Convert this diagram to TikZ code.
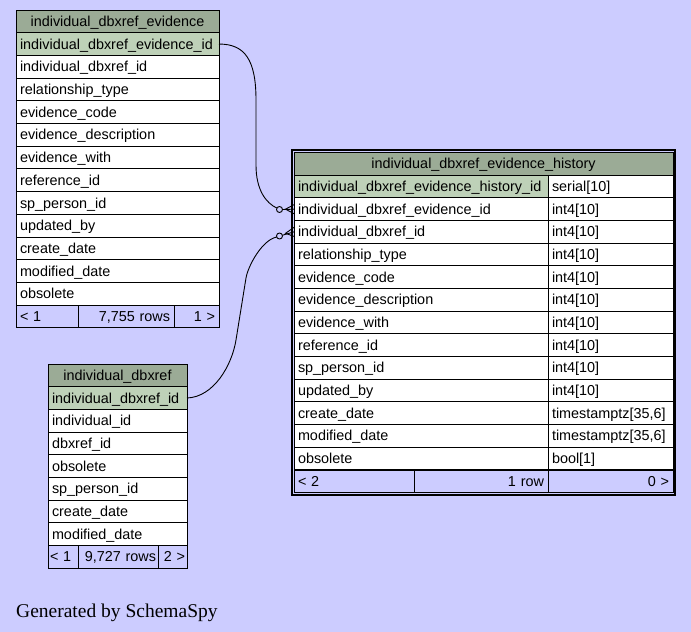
\documentclass[tikz,border=0pt]{standalone}
\usepackage{fontspec}
\setmainfont{Liberation Sans}
\newfontfamily\genfont{Liberation Serif}
\usetikzlibrary{calc}
\definecolor{bgc}{HTML}{CCCCFF}
\definecolor{hdr}{HTML}{9BAB96}
\definecolor{keyc}{HTML}{BED1B8}
\newcommand\tabfont{\fontsize{14.4}{16}\selectfont}
\tikzset{
  cell/.style={draw=black, line width=1pt, anchor=north west, outer sep=0pt,
    minimum height=22.68pt, inner xsep=4pt, inner ysep=0pt,
    text height=11pt, text depth=1pt, font=\tabfont},
  Lc/.style={cell, text width=#1 pt, align=left},
  Rc/.style={cell, text width=#1 pt, align=right},
  Cc/.style={cell, text width=#1 pt, align=center},
  tight/.style={inner xsep=2pt},
  edge/.style={draw=black, line width=0.9pt},
  crow/.style={draw=black, line width=0.9pt},
}
\begin{document}
\begin{tikzpicture}[x=1pt,y=-1pt]
\fill[bgc] (0,0) rectangle (691,632);
\useasboundingbox (0,0) rectangle (691,632);

% ---------- table 1: individual_dbxref_evidence ----------
\node[Cc=195, fill=hdr] (t1h) at (16,10) {individual\_dbxref\_evidence};
\node[Lc=195, fill=keyc] (t1k) at (16,32.71) {individual\_dbxref\_evidence\_id};
\foreach \t [count=\i from 2] in {individual\_dbxref\_id, relationship\_type, evidence\_code, evidence\_description, evidence\_with, reference\_id, sp\_person\_id, updated\_by, create\_date, modified\_date, obsolete}
  \node[Lc=195, fill=white] (t1r\i) at (16,{10+\i*22.71}) {\t};
\node[Lc=54, fill=bgc] (t1f1) at (16,305.23) {< 1};
\node[Rc=88, fill=bgc] (t1f2) at (78,305.23) {7,755 rows};
\node[Rc=37, fill=bgc] (t1f3) at (174,305.23) {1 >};

% ---------- table 2: individual_dbxref ----------
\node[Cc=131, fill=hdr] (t2h) at (48,364) {individual\_dbxref};
\node[Lc=131, fill=keyc] (t2k) at (48,386.67) {individual\_dbxref\_id};
\foreach \t [count=\i from 2] in {individual\_id, dbxref\_id, obsolete, sp\_person\_id, create\_date, modified\_date}
  \node[Lc=131, fill=white] (t2r\i) at (48,{364+\i*22.67}) {\t};
\node[Lc=26, tight, fill=bgc] (t2f1) at (48,545.36) {< 1};
\node[Rc=76, tight, fill=bgc] (t2f2) at (78,545.36) {9,727 rows};
\node[Rc=25, tight, fill=bgc] (t2f3) at (158,545.36) {2 >};

% ---------- table 3: individual_dbxref_evidence_history ----------
\draw[line width=2.2pt, fill=bgc] (292.2,150.2) rectangle (675,495);
\node[Cc=371, fill=hdr] (h0) at (294,152.5) {individual\_dbxref\_evidence\_history};
\node[Lc=246, fill=keyc] (h1) at (294,175.17) {individual\_dbxref\_evidence\_history\_id};
\node[Lc=117, fill=white] (h1t) at (548,175.17) {serial[10]};
\foreach \a/\b [count=\i from 2] in {individual\_dbxref\_evidence\_id/int4[10], individual\_dbxref\_id/int4[10], relationship\_type/int4[10], evidence\_code/int4[10], evidence\_description/int4[10], evidence\_with/int4[10], reference\_id/int4[10], sp\_person\_id/int4[10], updated\_by/int4[10], create\_date/{timestamptz[35,6]}, modified\_date/{timestamptz[35,6]}, obsolete/bool[1]}
{
  \node[Lc=246, fill=white] (h\i) at (294,{152.5+\i*22.67}) {\a};
  \node[Lc=117, fill=white] (h\i t) at (548,{152.5+\i*22.67}) {\b};
}
\node[Lc=112, fill=bgc] (hf1) at (294,470.0) {< 2};
\node[Rc=126, fill=bgc] (hf2) at (414,470.0) {1 row};
\node[Rc=117, fill=bgc] (hf3) at (548,470.0) {0 >};

% ---------- connectors ----------
% t1k -> h2
\coordinate (c1) at (279.5,209.5);
\draw[edge] (t1k.east) .. controls (245,44) and (256,60) .. (256,100)
  -- (256,165) .. controls (256,190) and (266,203) .. ($(c1)+(-2.6,-1.4)$);
\draw[crow] (c1) circle (3);
\draw[crow] ($(c1)+(3,0)$) -- (h2.west);
\draw[crow] ($(h2.west)+(0,-4.5)$) -- ($(h2.west)+(-8.5,0)$) -- ($(h2.west)+(0,4.5)$);

% t2k -> h3
\coordinate (c2) at (279.5,236);
\draw[edge] (t2k.east) .. controls (214,397) and (232,365) .. (236,340)
  -- (246,278) .. controls (248,266) and (262,240) .. ($(c2)+(-2.8,1)$);
\draw[crow] (c2) circle (3);
\draw[crow] ($(c2)+(3,-0.8)$) -- (h3.west);
\draw[crow] ($(h3.west)+(0,-4.5)$) -- ($(h3.west)+(-8.5,1.5)$) -- ($(h3.west)+(0,4.5)$);

% ---------- footer text ----------
\node[anchor=base west, inner sep=0pt, font=\genfont\fontsize{19.5}{22}\selectfont] (gen) at (16,617) {Generated by SchemaSpy};
\end{tikzpicture}
\end{document}
